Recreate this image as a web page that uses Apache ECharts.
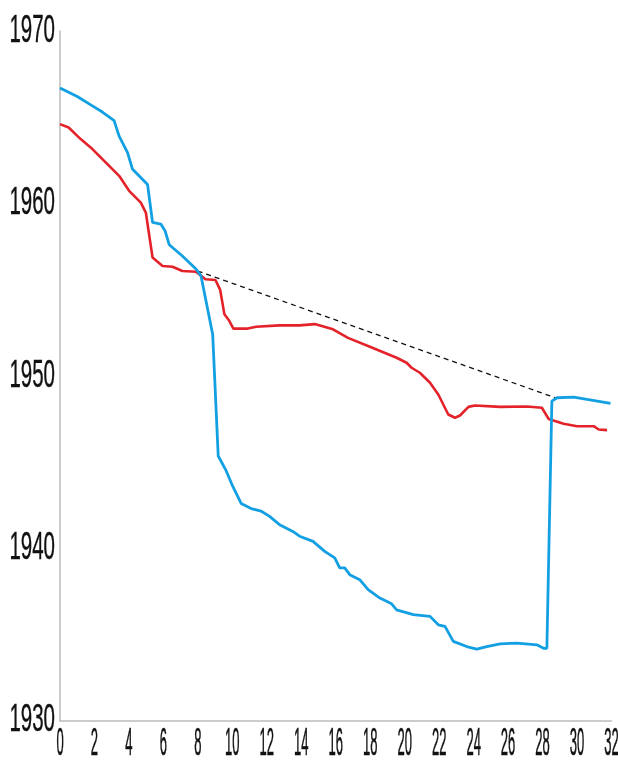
<!DOCTYPE html>
<html>
<head>
<meta charset="utf-8">
<script src="https://cdn.jsdelivr.net/npm/echarts@6/dist/echarts.min.js"></script>
<style>html,body{margin:0;padding:0;background:#fff}#c{width:618px;height:760px}</style>
</head>
<body>
<div id="c"></div>
<script>
const blueX = [0, 1.0, 1.88, 2.46, 3.14, 3.43, 3.92, 4.2, 5.08, 5.37, 5.85, 6.1, 6.34, 7.1, 7.89, 8.18, 8.86, 9.18, 9.64, 10.02, 10.51, 11.09, 11.68, 12.16, 12.74, 13.51, 13.9, 14.68, 15.36, 15.94, 16.23, 16.52, 16.81, 17.39, 17.88, 18.56, 19.24, 19.53, 20.5, 21.47, 21.95, 22.34, 22.82, 23.6, 24.18, 24.76, 25.54, 26.5, 27.67, 28.06, 28.25, 28.54, 28.84, 29.8, 30.58, 31.94];
const blueY = [1966.7, 1966.2, 1965.66, 1965.3, 1964.8, 1963.9, 1962.95, 1962.0, 1961.1, 1958.9, 1958.8, 1958.4, 1957.6, 1956.95, 1956.2, 1955.8, 1952.4, 1945.35, 1944.5, 1943.6, 1942.6, 1942.3, 1942.15, 1941.85, 1941.37, 1940.98, 1940.7, 1940.4, 1939.82, 1939.44, 1938.86, 1938.86, 1938.47, 1938.18, 1937.6, 1937.11, 1936.78, 1936.43, 1936.15, 1936.05, 1935.56, 1935.47, 1934.6, 1934.3, 1934.15, 1934.3, 1934.46, 1934.5, 1934.4, 1934.2, 1934.2, 1948.53, 1948.73, 1948.77, 1948.63, 1948.4];
const redX = [0, 0.5, 1.2, 1.88, 2.85, 3.43, 4.01, 4.69, 4.98, 5.37, 5.95, 6.53, 7.1, 7.89, 8.44, 9.02, 9.29, 9.54, 9.79, 10.06, 10.9, 11.38, 12.74, 13.9, 14.78, 15.84, 16.71, 17.98, 19.53, 20.11, 20.4, 20.88, 21.47, 21.95, 22.53, 22.92, 23.21, 23.7, 24.08, 25.54, 27.09, 27.96, 28.35, 29.22, 30.0, 30.97, 31.26, 31.74];
const redY = [1964.6, 1964.4, 1963.73, 1963.15, 1962.18, 1961.6, 1960.73, 1960.05, 1959.47, 1956.86, 1956.37, 1956.33, 1956.08, 1956.04, 1955.6, 1955.56, 1955.0, 1953.57, 1953.24, 1952.74, 1952.74, 1952.85, 1952.93, 1952.93, 1953.0, 1952.7, 1952.2, 1951.69, 1951.05, 1950.76, 1950.47, 1950.18, 1949.6, 1948.92, 1947.76, 1947.57, 1947.7, 1948.2, 1948.28, 1948.2, 1948.22, 1948.15, 1947.5, 1947.22, 1947.08, 1947.08, 1946.89, 1946.85];
const dashX = [7.99, 28.74];
const dashY = [1956.08, 1948.73];
const xTicks = [0, 2, 4, 6, 8, 10, 12, 14, 16, 18, 20, 22, 24, 26, 28, 30, 32];
const yTicks = [1930, 1940, 1950, 1960, 1970];

const zip = (a, b) => a.map((v, i) => [v, b[i]]);
const chart = echarts.init(document.getElementById('c'));
chart.setOption({
  animation: false,
  grid: { left: 60, right: 6.5, top: 31, bottom: 39.3 },
  xAxis: {
    type: 'value', min: 0, max: 32, interval: 2,
    axisLine: { show: true, lineStyle: { color: '#bcbcbc', width: 1.5 } },
    axisTick: { show: false }, axisLabel: { show: false }, splitLine: { show: false }
  },
  yAxis: {
    type: 'value', min: 1930, max: 1970, interval: 10,
    axisLine: { show: true, lineStyle: { color: '#bcbcbc', width: 1.5 } },
    axisTick: { show: false }, axisLabel: { show: false }, splitLine: { show: false }
  },
  series: [
    { type: 'line', data: zip(dashX, dashY), symbol: 'none', lineStyle: { color: '#111', width: 1.3, type: [5, 4] }, z: 1 },
    { type: 'line', data: zip(redX, redY), symbol: 'none', lineStyle: { color: '#e4222a', width: 2.6 }, z: 2 },
    { type: 'line', data: zip(blueX, blueY), symbol: 'none', lineStyle: { color: '#13a0e3', width: 2.8 }, z: 3 }
  ]
});

const gfx = [];
yTicks.forEach(v => {
  const p = chart.convertToPixel({ gridIndex: 0 }, [0, v]);
  gfx.push({
    type: 'text', x: 55, y: p[1], scaleX: 1, scaleY: 1.9,
    style: { text: String(v), x: 0, y: 0, align: 'right', verticalAlign: 'middle', font: '20.5px "Liberation Sans", Arial, sans-serif', fill: '#111', stroke: '#111', lineWidth: 0.2 }
  });
});
xTicks.forEach(v => {
  const p = chart.convertToPixel({ gridIndex: 0 }, [v, 1930]);
  gfx.push({
    type: 'text', x: p[0], y: p[1] + 23.5, scaleX: 1, scaleY: 3.0,
    style: { text: String(v), x: 0, y: 0, align: 'center', verticalAlign: 'middle', font: '13px "Liberation Sans", Arial, sans-serif', fill: '#111', stroke: '#111', lineWidth: 0.2 }
  });
});
chart.setOption({ graphic: gfx });
</script>
</body>
</html>
